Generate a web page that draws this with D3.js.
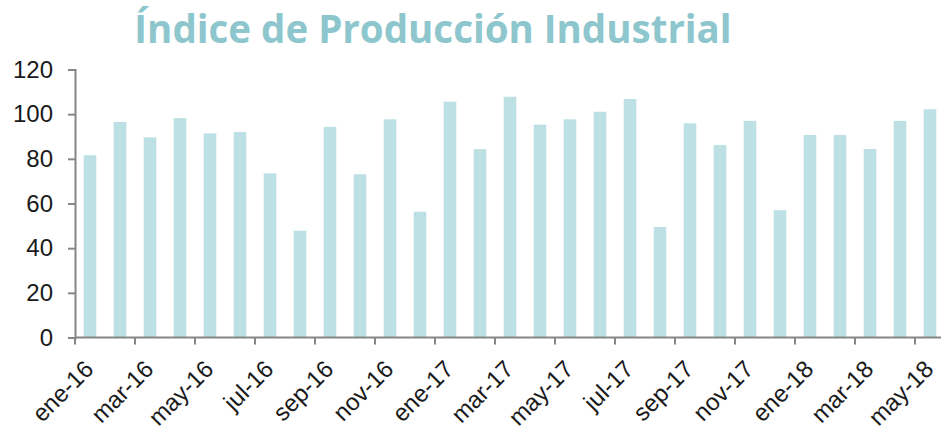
<!DOCTYPE html>
<html>
<head>
<meta charset="utf-8">
<script src="https://cdn.jsdelivr.net/npm/d3@7"></script>
<style>
  body { margin: 0; background: #fff; }
  svg { display: block; }
</style>
</head>
<body>
<svg id="chart" width="941" height="431"></svg>
<script>
// datos del índice
const months = ["ene-16","feb-16","mar-16","abr-16","may-16","jun-16","jul-16","ago-16","sep-16","oct-16","nov-16","dic-16",
                "ene-17","feb-17","mar-17","abr-17","may-17","jun-17","jul-17","ago-17","sep-17","oct-17","nov-17","dic-17",
                "ene-18","feb-18","mar-18","abr-18","may-18"];
const values = [81.6, 96.5, 89.6, 98.2, 91.4, 92.0, 73.5, 47.8, 94.3, 73.1, 97.7, 56.3,
                105.6, 84.4, 107.8, 95.3, 97.7, 101.1, 106.8, 49.5, 95.9, 86.2, 97.0, 57.0,
                90.7, 90.7, 84.4, 97.0, 102.2];
const yTicks = [0, 20, 40, 60, 80, 100, 120];
const title = "Índice de Producción Industrial";

const svg = d3.select("#chart");
const plot = {left: 75, right: 945, top: 69.5, bottom: 337.5};

const x = d3.scaleBand()
  .domain(months)
  .range([plot.left, plot.right])
  .paddingInner(0.58)
  .paddingOuter(0.29);

const y = d3.scaleLinear()
  .domain([0, 120])
  .range([plot.bottom, plot.top]);

// barras
svg.append("g").selectAll("rect")
  .data(values)
  .enter().append("rect")
  .attr("x", (d, i) => x(months[i]))
  .attr("y", d => y(d))
  .attr("width", x.bandwidth())
  .attr("height", d => y(0) - y(d))
  .attr("fill", "#bce0e4");

// eje y
const yAxis = svg.append("g")
  .attr("transform", "translate(" + plot.left + ",0)")
  .call(d3.axisLeft(y).tickValues(yTicks).tickSize(7).tickPadding(15));
yAxis.selectAll("text")
  .style("font-family", "'Liberation Sans', Arial, sans-serif")
  .style("font-size", "24px")
  .attr("fill", "#1a1a1a");
yAxis.selectAll("line, path").attr("stroke", "#868686").attr("stroke-width", 2);

// eje x
const xg = svg.append("g");
xg.append("line")
  .attr("x1", plot.left).attr("x2", 941)
  .attr("y1", y(0)).attr("y2", y(0))
  .attr("stroke", "#868686").attr("stroke-width", 2);

const step = x.step();
const tickMonths = months.filter((d, i) => i % 2 === 0);
xg.selectAll(".tick")
  .data(tickMonths)
  .enter().append("line")
  .attr("x1", d => x(d) - x.paddingOuter() * step)
  .attr("x2", d => x(d) - x.paddingOuter() * step)
  .attr("y1", y(0)).attr("y2", y(0) + 7)
  .attr("stroke", "#868686").attr("stroke-width", 2);

xg.selectAll(".lbl")
  .data(tickMonths)
  .enter().append("text")
  .attr("transform", d => "translate(" + (x(d) + x.bandwidth() / 2 + 5) + "," + (y(0) + 33) + ") rotate(-45)")
  .attr("text-anchor", "end")
  .style("font-family", "'Liberation Sans', Arial, sans-serif")
  .style("font-size", "24px")
  .attr("fill", "#1a1a1a")
  .text(d => d);

// título
svg.append("text")
  .attr("x", 433)
  .attr("y", 43)
  .attr("text-anchor", "middle")
  .style("font-family", "'Open Sans', sans-serif")
  .style("font-weight", "bold")
  .style("font-size", "38.5px")
  .attr("fill", "#8dc6cd")
  .text(title);
</script>
</body>
</html>
